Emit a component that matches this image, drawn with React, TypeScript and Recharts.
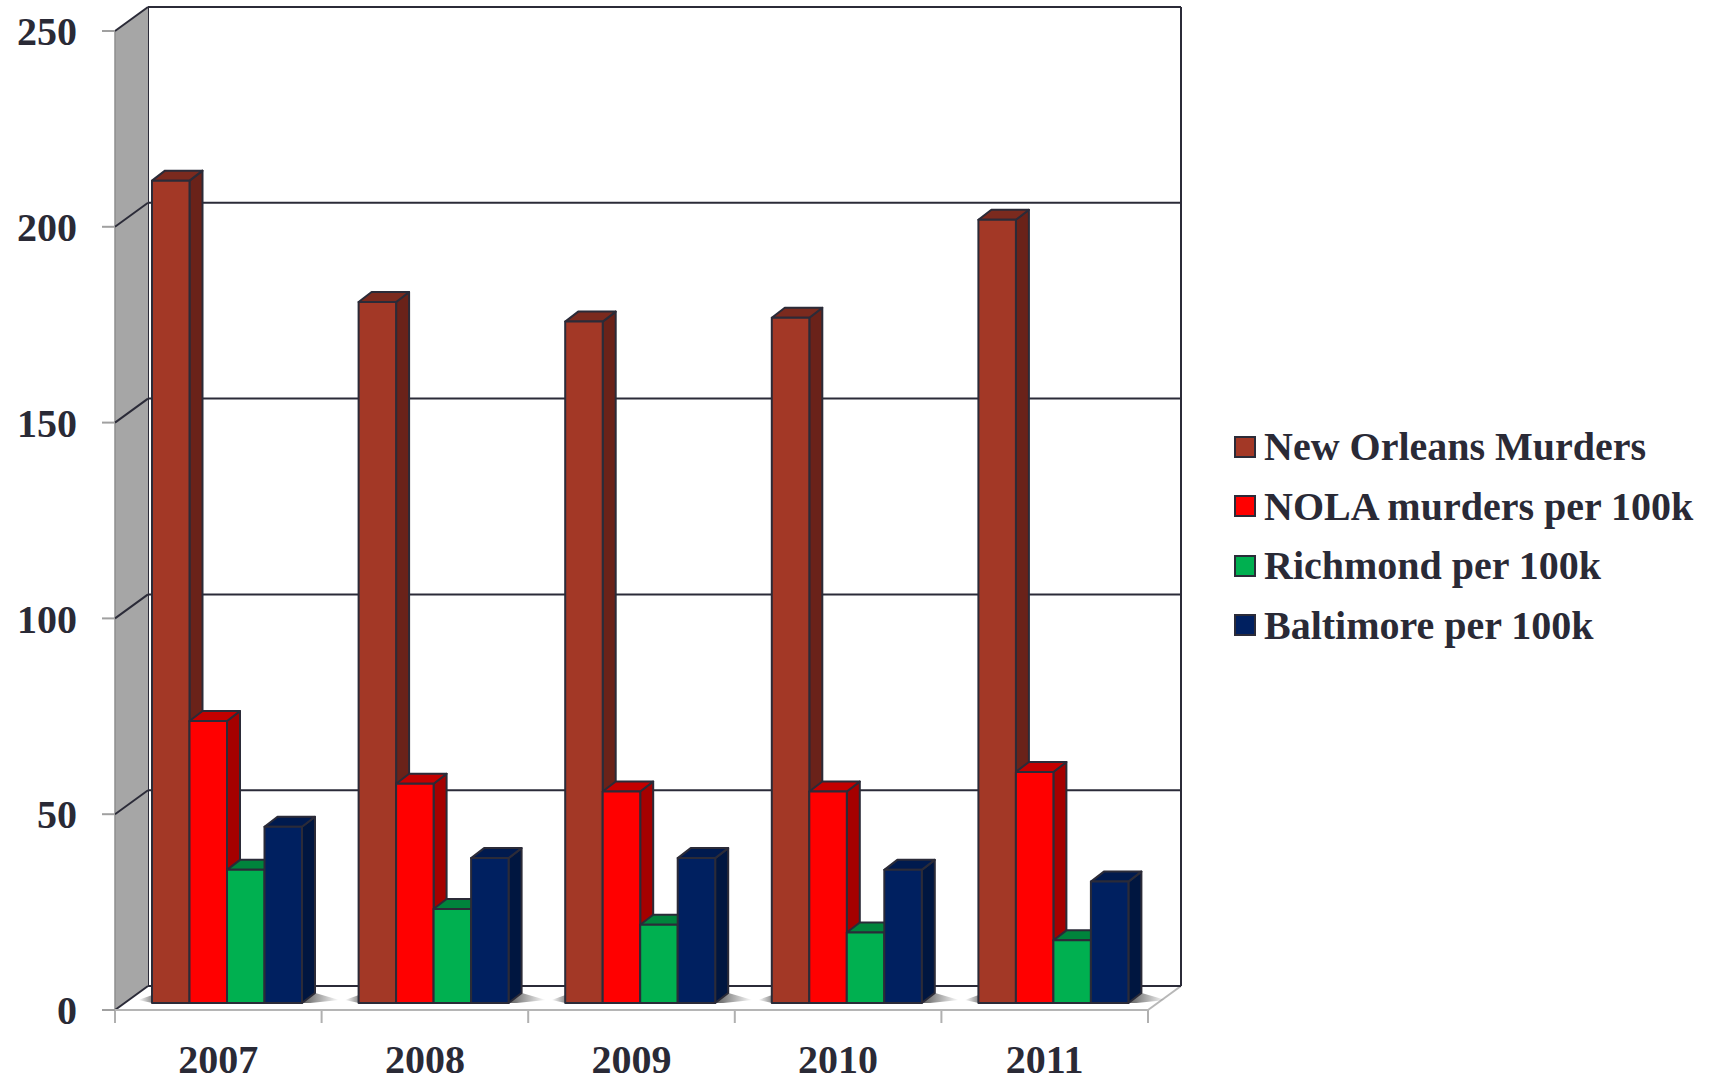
import { BarChart, Bar, XAxis, YAxis, ReferenceArea, ReferenceLine } from 'recharts';

document.body.style.margin = '0';

const years = ['2007', '2008', '2009', '2010', '2011'];
const newOrleansMurders = [210, 179, 174, 175, 200];
const nolaPer100k = [72, 56, 54, 54, 59];
const richmondPer100k = [34, 24, 20, 18, 16];
const baltimorePer100k = [45, 37, 37, 34, 31];
const yTicks = [0, 50, 100, 150, 200, 250];

const series = [
  { key: 'murders', name: 'New Orleans Murders', front: '#A33826', side: '#6A2219', top: '#7B2A1E' },
  { key: 'nola', name: 'NOLA murders per 100k', front: '#FF0000', side: '#A50000', top: '#C40000' },
  { key: 'richmond', name: 'Richmond per 100k', front: '#00B050', side: '#007A36', top: '#00843C' },
  { key: 'baltimore', name: 'Baltimore per 100k', front: '#002060', side: '#001640', top: '#001A4E' },
];

const data = years.map((year, i) => ({
  year,
  murders: newOrleansMurders[i],
  nola: nolaPer100k[i],
  richmond: richmondPer100k[i],
  baltimore: baltimorePer100k[i],
}));

const FONT = '"Liberation Serif", "Times New Roman", serif';
const INK = '#2a2a36';
const EDGE = '#2b2b38';

// back wall offset (depth of the 3d box) and bar placement/depth
const WX = 33;
const WY = 24;
const SX = 9;
const SY = 7;
const DX = 13;
const DY = 10;
const BAR = 37.5;

function makeBox(front: string, side: string, top: string) {
  return (props: any) => {
    const { x, y, width, height } = props;
    if (!height || height <= 0) return <g />;
    const fx = x + SX;
    const fy = y - SY;
    const r = fx + width;
    const b = fy + height;
    return (
      <g stroke={EDGE} strokeWidth={2} strokeLinejoin="round">
        <polygon points={`${r},${fy} ${r + DX},${fy - DY} ${r + DX},${b - DY} ${r},${b}`} fill={side} />
        <polygon points={`${fx},${fy} ${fx + DX},${fy - DY} ${r + DX},${fy - DY} ${r},${fy}`} fill={top} />
        <rect x={fx} y={fy} width={width} height={height} fill={front} />
      </g>
    );
  };
}

const Walls = (props: any) => {
  const { x, y, width, height } = props;
  const b = y + height;
  const r = x + width;
  const step = width / years.length;
  const group = BAR * series.length;
  const base = b - SY;
  return (
    <g>
      <defs>
        <linearGradient id="shadeR" x1="0" y1="0" x2="1" y2="0">
          <stop offset="0" stopColor="#000" stopOpacity="0.85" />
          <stop offset="1" stopColor="#000" stopOpacity="0" />
        </linearGradient>
        <linearGradient id="shadeL" x1="0" y1="0" x2="1" y2="0">
          <stop offset="0" stopColor="#000" stopOpacity="0" />
          <stop offset="1" stopColor="#000" stopOpacity="0.6" />
        </linearGradient>
      </defs>
      <polygon points={`${x},${b} ${r},${b} ${r + WX},${b - WY} ${x + WX},${b - WY}`} fill="#fff" />
      <rect x={x + WX} y={y - WY} width={width} height={height} fill="#fff" />
      <line x1={x + WX} y1={y - WY} x2={x + WX} y2={b - WY} stroke={EDGE} strokeWidth={2} />
      <line x1={r + WX} y1={y - WY} x2={r + WX} y2={b - WY} stroke={EDGE} strokeWidth={2} />
      <polygon points={`${x},${y} ${x + WX},${y - WY} ${x + WX},${b - WY} ${x},${b}`} fill="#a6a6a6" />
      <line x1={x} y1={y} x2={x} y2={b} stroke="#8e8e8e" strokeWidth={1.5} />
      <line x1={r} y1={b} x2={r + WX} y2={b - WY} stroke="#b8b8b8" strokeWidth={2} />
      {years.map((_, i) => {
        const gl = x + i * step + (step - group) / 2 + SX;
        const gr = gl + group;
        return (
          <g key={i}>
            <polygon
              points={`${gr},${base} ${gr + DX},${base - DY} ${gr + DX + 24},${base - 3} ${gr + 8},${base}`}
              fill="url(#shadeR)"
              opacity={0.75}
            />
            <polygon
              points={`${gl - 14},${base - 3} ${gl},${base - 8} ${gl},${base}`}
              fill="url(#shadeL)"
              opacity={0.75}
            />
          </g>
        );
      })}
      {years.concat(['']).map((_, i) => (
        <line key={i} x1={x + i * step} y1={b} x2={x + i * step} y2={b + 13} stroke="#b0b0b0" strokeWidth={2} />
      ))}
    </g>
  );
};

const GridShape = (props: any) => {
  const { x1, y1, x2 } = props;
  const left = Math.min(x1, x2);
  const right = Math.max(x1, x2);
  return (
    <g stroke={EDGE} strokeWidth={2}>
      <line x1={left} y1={y1} x2={left + WX} y2={y1 - WY} />
      <line x1={left + WX} y1={y1 - WY} x2={right + WX} y2={y1 - WY} />
    </g>
  );
};

const tickStyle = { fontFamily: FONT, fontWeight: 700, fontSize: 40, fill: INK };

export default function App() {
  return (
    <div style={{ position: 'relative', width: 1710, height: 1081, background: '#fff' }}>
      <BarChart
        width={1710}
        height={1081}
        data={data}
        margin={{ top: 31, right: 562, bottom: 0, left: 0 }}
        barGap={0}
        barSize={BAR}
      >
        <ReferenceArea y1={0} y2={250} shape={Walls} ifOverflow="visible" zIndex={-90} />
        {yTicks.map((t) => (
          <ReferenceLine key={t} y={t} shape={GridShape} ifOverflow="visible" zIndex={-80} />
        ))}
        <XAxis
          dataKey="year"
          tickLine={false}
          tickSize={0}
          tickMargin={35}
          axisLine={{ stroke: '#b5b5b5', strokeWidth: 2 }}
          tick={tickStyle}
          height={71}
        />
        <YAxis
          domain={[0, 250]}
          ticks={yTicks}
          tickSize={13}
          tickMargin={25}
          width={115}
          axisLine={false}
          tickLine={{ stroke: '#a0a0a0', strokeWidth: 2 }}
          tick={tickStyle}
        />
        {series.map((s) => (
          <Bar
            key={s.key}
            dataKey={s.key}
            name={s.name}
            fill={s.front}
            isAnimationActive={false}
            shape={makeBox(s.front, s.side, s.top)}
          />
        ))}
      </BarChart>
      <div style={{ position: 'absolute', left: 1234, top: 417 }}>
        {series.map((s) => (
          <div key={s.key} style={{ display: 'flex', alignItems: 'center', height: 59.5 }}>
            <div
              style={{
                width: 18,
                height: 18,
                background: s.front,
                border: `2px solid ${EDGE}`,
                marginRight: 8,
              }}
            />
            <span style={{ fontFamily: FONT, fontWeight: 700, fontSize: 40, color: INK, whiteSpace: 'nowrap' }}>
              {s.name}
            </span>
          </div>
        ))}
      </div>
    </div>
  );
}
